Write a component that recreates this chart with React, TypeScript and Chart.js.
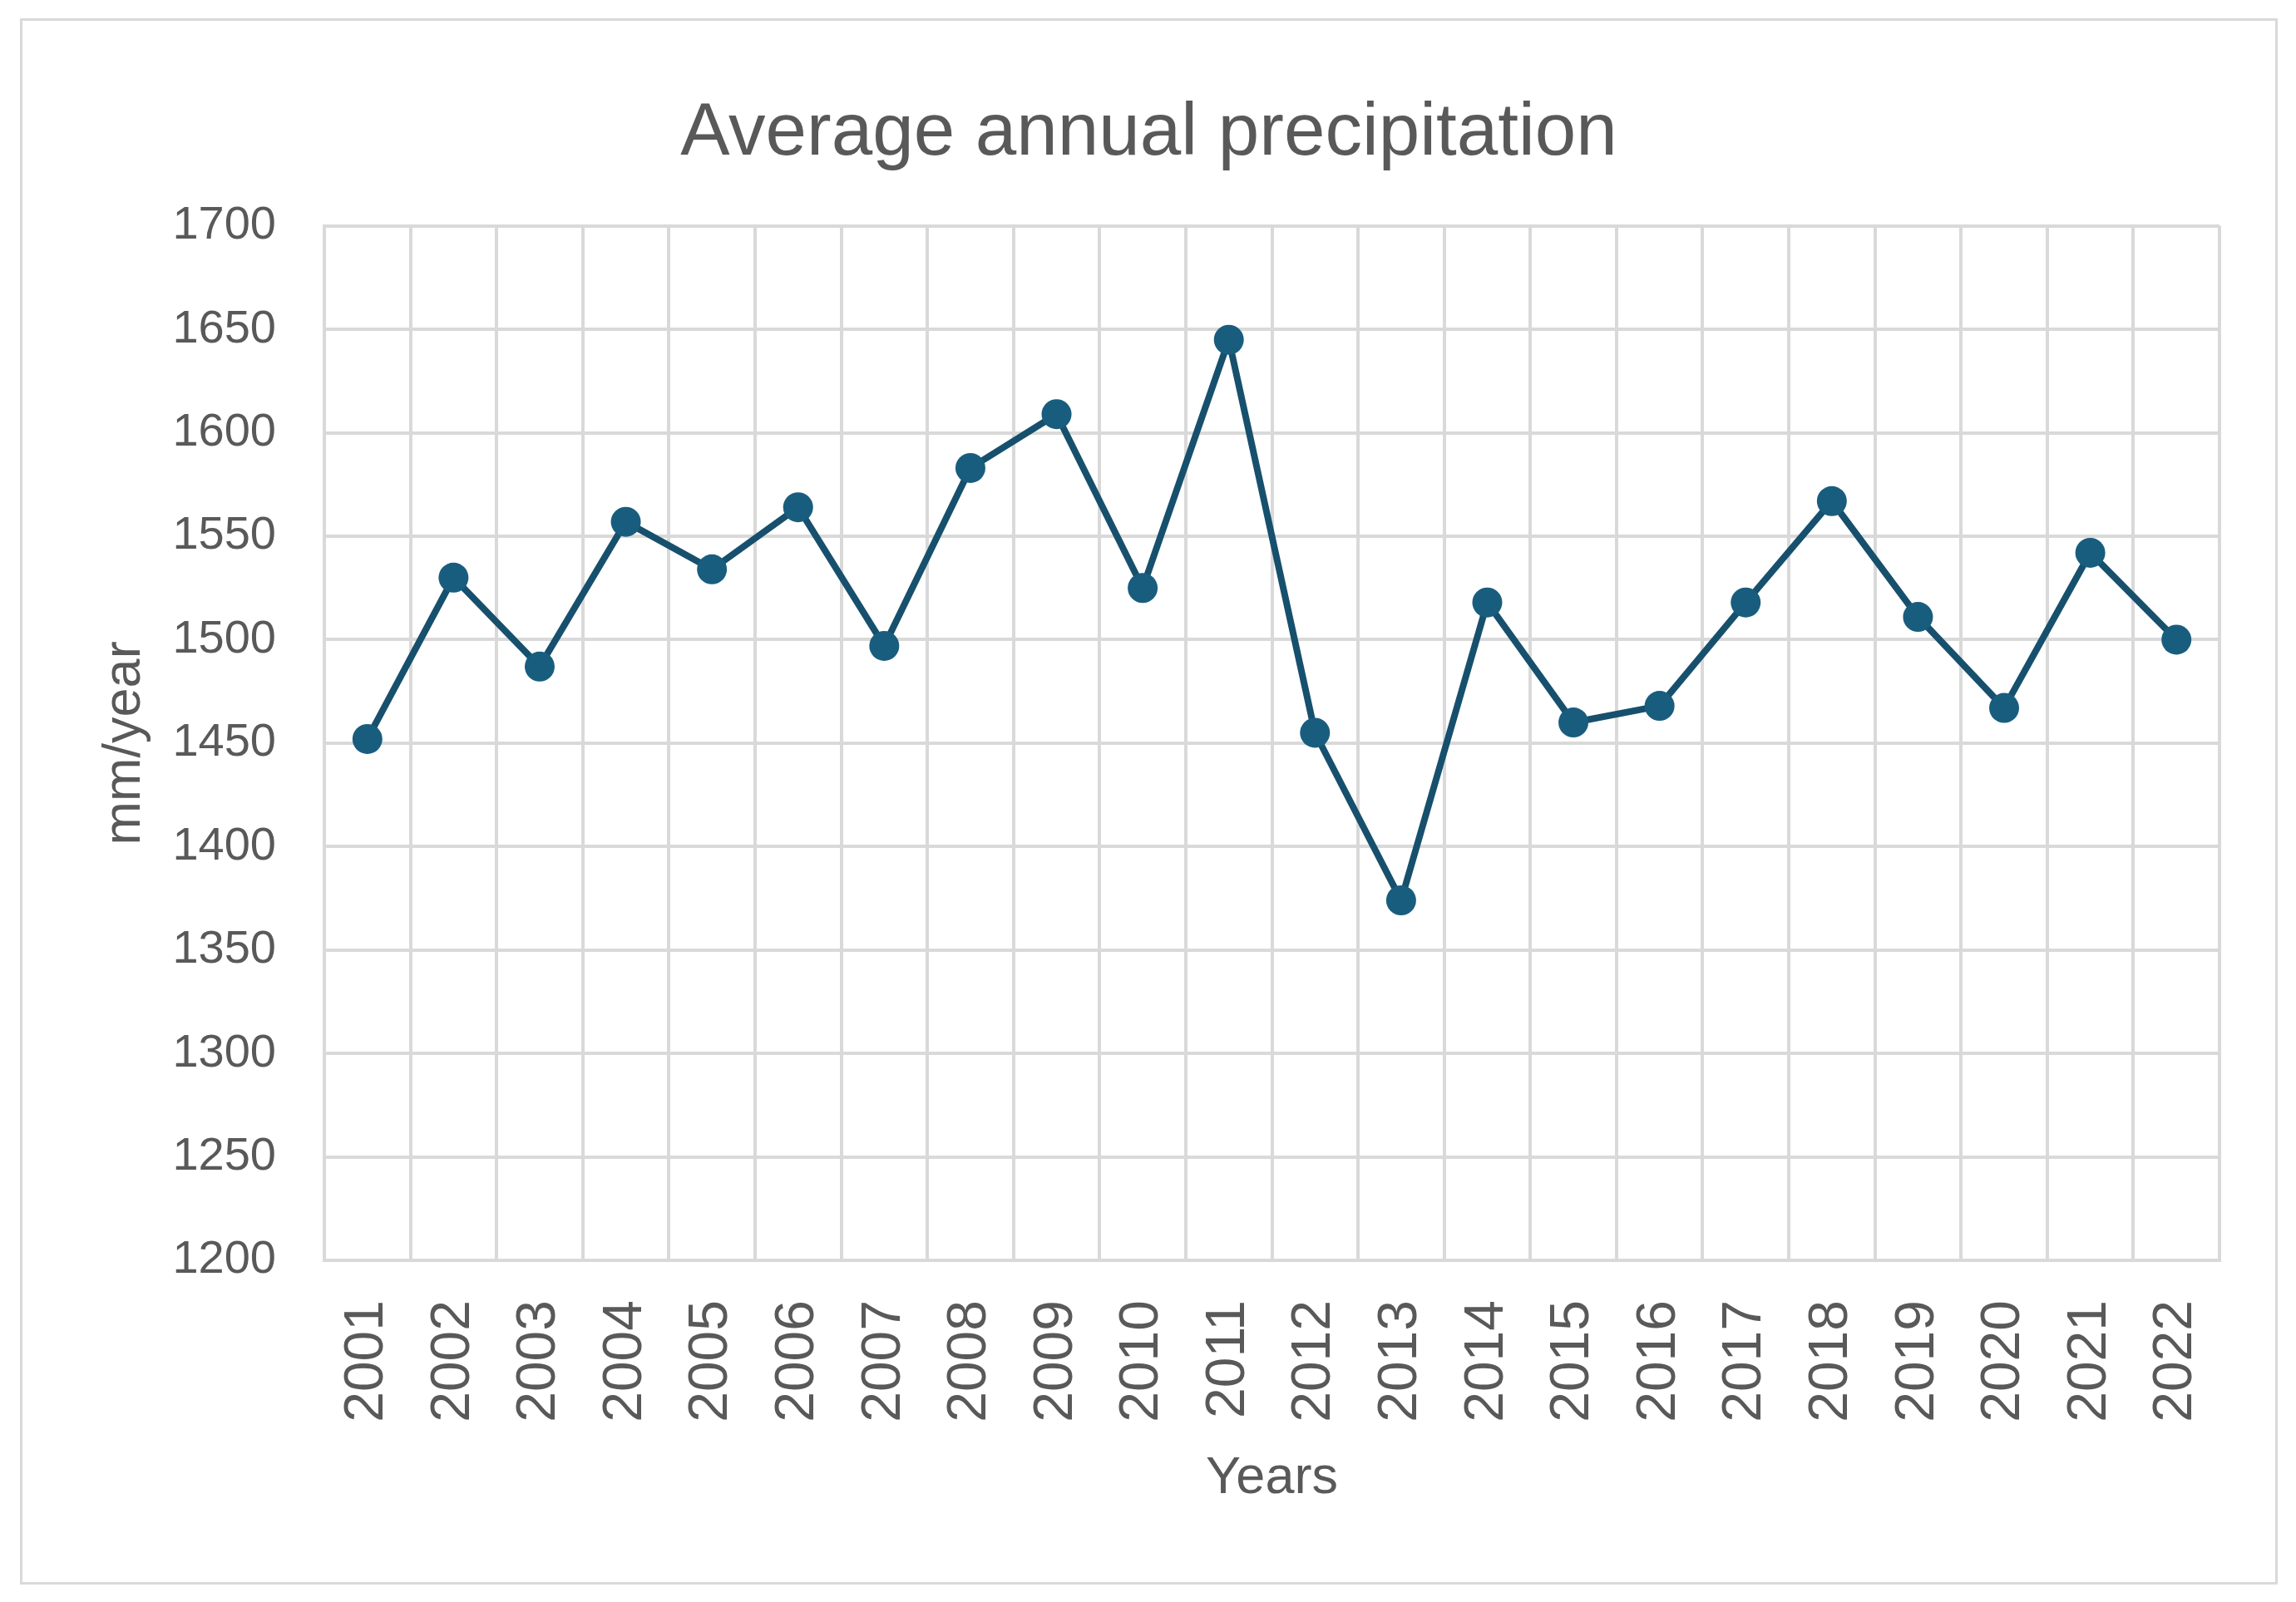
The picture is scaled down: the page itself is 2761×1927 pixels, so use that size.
import React, { useEffect, useRef } from "react";
import { Chart, registerables } from "chart.js";

Chart.register(...registerables);

const years = [
  "2001", "2002", "2003", "2004", "2005", "2006", "2007", "2008", "2009", "2010", "2011",
  "2012", "2013", "2014", "2015", "2016", "2017", "2018", "2019", "2020", "2021", "2022",
];
const precipitation = [
  1452, 1530, 1487, 1557, 1534, 1564, 1497, 1583, 1609, 1525, 1645,
  1455, 1374, 1518, 1460, 1468, 1518, 1567, 1511, 1467, 1542, 1500,
];
const yMin = 1200;
const yMax = 1700;
const yStep = 50;
const chartTitle = "Average annual precipitation";
const xTitle = "Years";
const yTitle = "mm/year";

const FONT = "'Liberation Sans', Arial, sans-serif";
const TEXT = "#595959";
const GRID = "#d9d9d9";

const framePlugin = {
  id: "frame",
  beforeDraw(chart: any) {
    const ctx = chart.ctx;
    ctx.save();
    ctx.fillStyle = "#ffffff";
    ctx.fillRect(0, 0, chart.width, chart.height);
    ctx.strokeStyle = GRID;
    ctx.lineWidth = 3;
    ctx.strokeRect(25.5, 23.5, 2712, 1881);
    ctx.restore();
  },
};

export default function App() {
  const ref = useRef<HTMLCanvasElement | null>(null);

  useEffect(() => {
    document.body.style.margin = "0";
    document.body.style.overflow = "hidden";
    const canvas = ref.current;
    if (!canvas) return;
    const chart = new Chart(canvas, {
      type: "line",
      data: {
        labels: years,
        datasets: [
          {
            label: "Precipitation",
            data: precipitation,
            borderColor: "#17506d",
            borderWidth: 8,
            pointRadius: 18,
            pointHoverRadius: 18,
            pointBackgroundColor: "#195d7e",
            pointBorderWidth: 0,
            tension: 0,
            clip: false as any,
          },
        ],
      },
      options: {
        responsive: false,
        animation: false,
        events: [],
        layout: { padding: { top: 22, left: 24, right: 22, bottom: 21 } },
        plugins: {
          legend: { display: false },
          tooltip: { enabled: false },
          title: {
            display: true,
            text: chartTitle,
            color: TEXT,
            font: { family: FONT, size: 89, weight: "normal", lineHeight: 1.2 },
            padding: { top: 86, bottom: 57 },
          },
        },
        scales: {
          x: {
            type: "category",
            offset: true,
            grid: { offset: true, color: GRID, lineWidth: 4, drawTicks: false },
            border: { display: true, color: GRID, width: 4 },
            ticks: {
              color: TEXT,
              font: { family: FONT, size: 66 },
              minRotation: 90,
              maxRotation: 90,
              padding: 48,
              autoSkip: false,
            },
            title: {
              display: true,
              text: xTitle,
              color: TEXT,
              font: { family: FONT, size: 63, lineHeight: 1.2 },
              padding: { top: 0, bottom: 90 },
            },
            afterFit(s: any) {
              s.height = 390;
            },
          },
          y: {
            type: "linear",
            position: "left",
            min: yMin,
            max: yMax,
            grid: { color: GRID, lineWidth: 4, drawTicks: false },
            border: { display: true, color: GRID, width: 4 },
            ticks: {
              stepSize: yStep,
              color: TEXT,
              font: { family: FONT, size: 56 },
              padding: 58,
              callback: (v: any) => String(v),
            },
            title: {
              display: true,
              text: yTitle,
              color: TEXT,
              font: { family: FONT, size: 63, lineHeight: 1.2 },
              padding: { top: 89, bottom: 0 },
            },
            afterFit(s: any) {
              s.width = 366;
            },
          },
          yRight: {
            type: "linear",
            position: "right",
            display: true,
            grid: { display: false },
            border: { display: false },
            ticks: { display: false },
            afterFit(s: any) {
              s.width = 70;
            },
          },
        },
      } as any,
      plugins: [framePlugin],
    });
    return () => chart.destroy();
  }, []);

  return (
    <div style={{ position: "absolute", left: 0, top: 0, width: 2761, height: 1927 }}>
      <canvas ref={ref} width={2761} height={1927} style={{ display: "block" }} />
    </div>
  );
}
